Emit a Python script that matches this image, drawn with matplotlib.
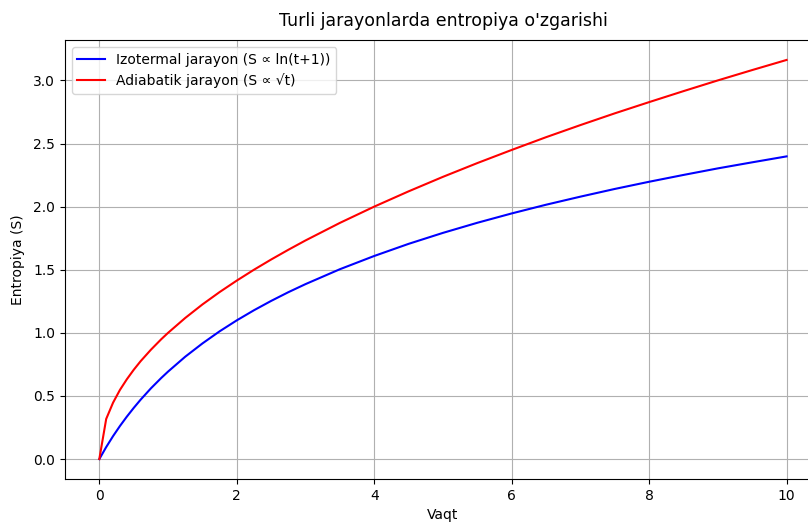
import numpy as np
import matplotlib
matplotlib.use("Agg")
import matplotlib.pyplot as plt

# time values
vaqt = [0, 0.1, 0.2, 0.3, 0.4, 0.5, 0.6, 0.75, 0.9, 1, 1.25, 1.5, 1.75, 2,
        2.25, 2.5, 2.75, 3, 3.5, 4, 4.5, 5, 5.5, 6, 6.5, 7, 7.5, 8, 8.5,
        9, 9.5, 10]
# izotermal jarayon
izotermal = [0, 0.095, 0.182, 0.262, 0.336, 0.405, 0.470, 0.560, 0.642, 0.693,
             0.811, 0.916, 1.012, 1.099, 1.179, 1.253, 1.322, 1.386, 1.504,
             1.609, 1.705, 1.792, 1.872, 1.946, 2.015, 2.079, 2.140, 2.197,
             2.251, 2.303, 2.351, 2.398]
# adiabatik jarayon
adiabatik = [0, 0.318, 0.447, 0.548, 0.632, 0.707, 0.775, 0.866, 0.949, 1.0,
             1.118, 1.225, 1.323, 1.414, 1.500, 1.581, 1.658, 1.732, 1.871,
             2.0, 2.121, 2.236, 2.345, 2.449, 2.550, 2.646, 2.739, 2.828,
             2.915, 3.0, 3.082, 3.162]

fig = plt.figure(figsize=(8.08, 5.23), dpi=100)
ax = fig.add_axes([0.0804, 0.0841, 0.9356, 0.8394])

ax.plot(vaqt, izotermal, color='blue', label='Izotermal jarayon (S ∝ ln(t+1))')
ax.plot(vaqt, adiabatik, color='red', label='Adiabatik jarayon (S ∝ √t)')

ax.set_xlim(-0.5, 10.5)
ax.set_ylim(-0.158, 3.32)
ax.set_xticks([0, 2, 4, 6, 8, 10])
ax.set_xlabel('Vaqt')
ax.set_ylabel('Entropiya (S)', labelpad=6)
ax.set_title("Turli jarayonlarda entropiya o'zgarishi", fontsize=12.5, pad=10)
ax.grid(True)
ax.legend(loc='upper left')

fig.savefig('out.png', dpi=100)
